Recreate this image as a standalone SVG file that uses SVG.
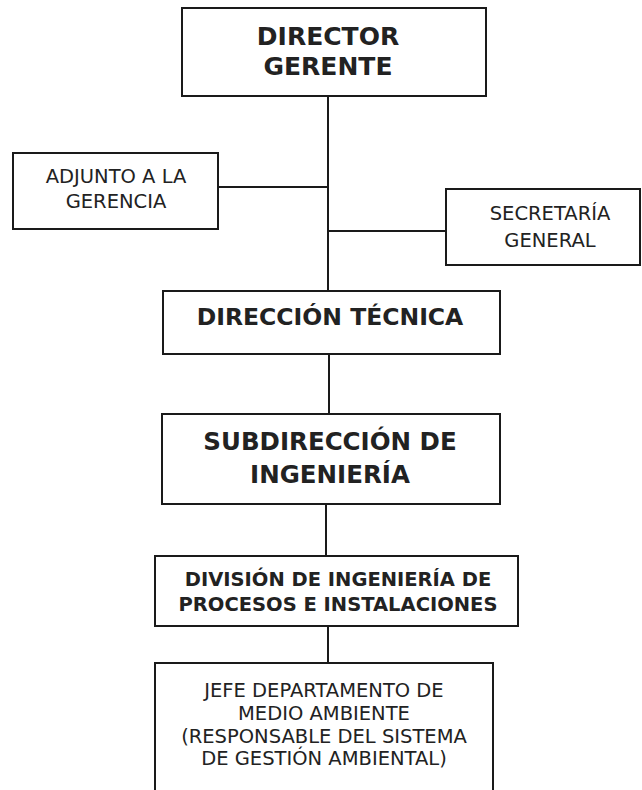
<svg xmlns="http://www.w3.org/2000/svg" width="642" height="790" viewBox="0 0 642 790">
<style>
.box{fill:#fff;stroke:#1a1a1a;stroke-width:2}
.ln{stroke:#1a1a1a;stroke-width:2;fill:none}
.b{font-family:"DejaVu Sans",Verdana,sans-serif;font-weight:bold;fill:#222;text-anchor:middle}
.r{font-family:"DejaVu Sans",Verdana,sans-serif;fill:#222;text-anchor:middle;font-size:19.5px}
</style>
<rect width="642" height="790" fill="#fff"/>
<g id="connectors">
<line class="ln" x1="328" y1="96" x2="328" y2="291"/>
<line class="ln" x1="218" y1="187" x2="328" y2="187"/>
<line class="ln" x1="328" y1="231" x2="446" y2="231"/>
<line class="ln" x1="329" y1="354" x2="329" y2="414"/>
<line class="ln" x1="326" y1="504" x2="326" y2="556"/>
<line class="ln" x1="328" y1="626" x2="328" y2="663"/>
</g>
<g id="director">
<rect class="box" x="182" y="8" width="304" height="88"/>
<text class="b" font-size="25" x="328" y="45">DIRECTOR</text>
<text class="b" font-size="25" x="328" y="75">GERENTE</text>
</g>
<g id="adjunto">
<rect class="box" x="13" y="153" width="205" height="76"/>
<text class="r" x="116" y="183">ADJUNTO A LA</text>
<text class="r" x="116" y="208">GERENCIA</text>
</g>
<g id="secretaria">
<rect class="box" x="446" y="189" width="194" height="76"/>
<text class="r" x="550" y="220">SECRETARÍA</text>
<text class="r" x="550" y="247">GENERAL</text>
</g>
<g id="direccion-tecnica">
<rect class="box" x="163" y="291" width="337" height="63"/>
<text class="b" font-size="23.5" x="330" y="325">DIRECCIÓN TÉCNICA</text>
</g>
<g id="subdireccion">
<rect class="box" x="162" y="414" width="338" height="90"/>
<text class="b" font-size="24.5" x="330" y="450">SUBDIRECCIÓN DE</text>
<text class="b" font-size="24.5" x="330" y="483">INGENIERÍA</text>
</g>
<g id="division">
<rect class="box" x="155" y="556" width="363" height="70"/>
<text class="b" font-size="19.5" x="338" y="586">DIVISIÓN DE INGENIERÍA DE</text>
<text class="b" font-size="19.5" x="338" y="611">PROCESOS E INSTALACIONES</text>
</g>
<g id="jefe">
<path class="box" d="M155,795 V663 H493 V795"/>
<text class="r" x="324" y="697">JEFE DEPARTAMENTO DE</text>
<text class="r" x="324" y="720">MEDIO AMBIENTE</text>
<text class="r" x="324" y="743">(RESPONSABLE DEL SISTEMA</text>
<text class="r" x="324" y="765">DE GESTIÓN AMBIENTAL)</text>
</g>
</svg>
